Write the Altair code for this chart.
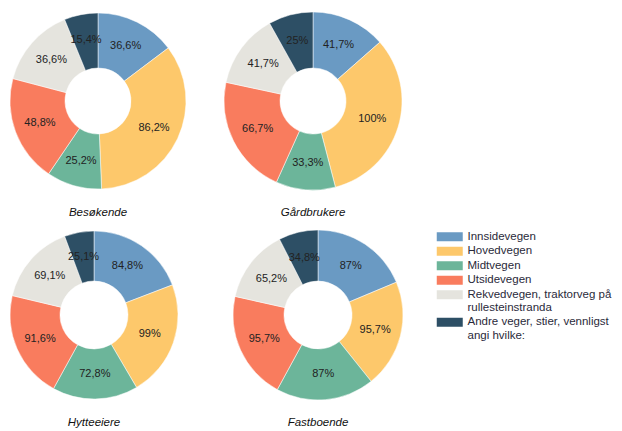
import altair as alt
import pandas as pd

categories = [
    "Innsidevegen",
    "Hovedvegen",
    "Midtvegen",
    "Utsidevegen",
    "Rekvedvegen, traktorveg på|rullesteinstranda",
    "Andre veger, stier, vennligst|angi hvilke:",
]
colors = ["#6A9AC3", "#FDC86B", "#6CB59A", "#F97C5E", "#E5E4DE", "#2D4F65"]

groups = ["Besøkende", "Gårdbrukere", "Hytteeiere", "Fastboende"]
besokende = [36.6, 86.2, 25.2, 48.8, 36.6, 15.4]
gardbrukere = [41.7, 100, 33.3, 66.7, 41.7, 25]
hytteeiere = [84.8, 99, 72.8, 91.6, 69.1, 25.1]
fastboende = [87, 95.7, 87, 95.7, 65.2, 34.8]
series = [besokende, gardbrukere, hytteeiere, fastboende]

rows = []
for g, vals in zip(groups, series):
    for i, (c, v) in enumerate(zip(categories, vals)):
        rows.append({"group": g, "cat": c, "idx": i, "value": v})
df = pd.DataFrame(rows)

FONT = "Liberation Sans"

legend = alt.Legend(
    title=None,
    orient="none",
    legendX=436,
    legendY=220,
    padding=0,
    labelExpr="split(datum.label, '|')",
    labelFont=FONT,
    labelFontSize=11.5,
    labelColor="#2a2a3a",
    symbolType="M-2.6,-0.9H2.6V0.9H-2.6Z",
    symbolSize=100,
    symbolStrokeWidth=0,
    symbolOpacity=1,
    rowPadding=1.5,
    labelOffset=12,
    labelLimit=300,
)


def panel(g, size, outer, inner, lab_r):
    base = alt.Chart(df[df.group == g]).encode(
        theta=alt.Theta("value:Q", stack=True),
        order=alt.Order("idx:Q"),
    )
    arcs = base.mark_arc(
        outerRadius=outer, innerRadius=inner, stroke="white", strokeWidth=0.5
    ).encode(
        color=alt.Color(
            "cat:N",
            scale=alt.Scale(domain=categories, range=colors),
            sort=categories,
            legend=legend,
        )
    )
    labels = base.transform_calculate(
        lab="replace(format(datum.value, '.1~f'), '.', ',') + '%'"
    ).mark_text(radius=lab_r, font=FONT, fontSize=11, color="#222").encode(
        text="lab:N", detail="cat:N"
    )
    return (arcs + labels).properties(
        width=size,
        height=size,
        title=alt.TitleParams(
            g, orient="bottom", fontStyle="italic", fontWeight="normal",
            font=FONT, fontSize=11.5, color="#111", offset=16,
        ),
    )


top = alt.hconcat(
    panel(groups[0], 180, 88, 33, 62),
    panel(groups[1], 180, 89, 33, 62),
    spacing=35,
)
bottom = alt.hconcat(
    panel(groups[2], 172, 84, 34, 59),
    panel(groups[3], 172, 85, 34, 59),
    spacing=52,
)

chart = (
    alt.vconcat(top, bottom, spacing=10)
    .properties(padding={"top": 3, "left": 0, "right": 0, "bottom": 0})
    .configure_view(stroke=None)
)

chart.save("out.html", embed_options={"renderer": "svg", "actions": False})
